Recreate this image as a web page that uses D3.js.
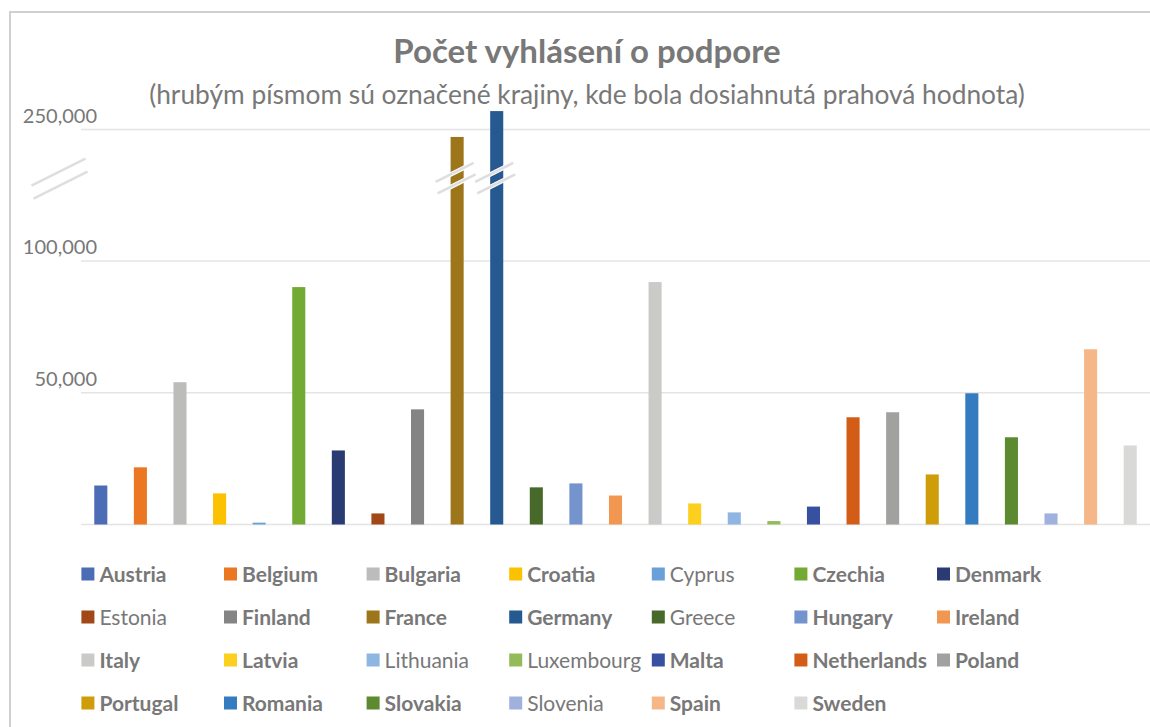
<!DOCTYPE html>
<html>
<head>
<meta charset="utf-8">
<script src="https://cdn.jsdelivr.net/npm/d3@7"></script>
<style>
  body { margin: 0; background: #fff; }
  text { font-family: Lato, "Open Sans", sans-serif; fill: #787878; }
</style>
</head>
<body>
<script>
// data
const countries = ["Austria","Belgium","Bulgaria","Croatia","Cyprus","Czechia","Denmark",
  "Estonia","Finland","France","Germany","Greece","Hungary","Ireland",
  "Italy","Latvia","Lithuania","Luxembourg","Malta","Netherlands","Poland",
  "Portugal","Romania","Slovakia","Slovenia","Spain","Sweden"];

const counts = [14800, 21700, 54000, 11800, 700, 90100, 28100,
  4200, 43700, 241500, 271000, 14100, 15600, 11000,
  92000, 8000, 4600, 1300, 6800, 40700, 42600,
  19000, 49800, 33100, 4200, 66500, 30000];

// countries where the threshold was reached (bold in legend)
const thresholdReached = ["Austria","Belgium","Bulgaria","Croatia","Czechia","Denmark",
  "Finland","France","Germany","Hungary","Ireland","Italy","Latvia","Malta",
  "Netherlands","Poland","Portugal","Romania","Slovakia","Spain","Sweden"];

const colors = ["#4c6db6","#ec7723","#bcbcbb","#fcc100","#6aa0d8","#73aa33","#293b72",
  "#a24816","#848484","#9d761b","#25598f","#476a2b","#7593cc","#f29752",
  "#cacac9","#fdcf1f","#8fb5e2","#93bb5a","#3751a0","#d35c16","#a1a1a0",
  "#cf9d0a","#347bc0","#5b8a30","#a0b1dd","#f5b787","#d9d9d8"];

const gridValues = [0, 50000, 100000, 250000];
const tickValues = [50000, 100000, 250000];
const brokenBars = ["France", "Germany"];
const breakValue = 194500;

const title = "Počet vyhlásení o podpore";
const subtitle = "(hrubým písmom sú označené krajiny, kde bola dosiahnutá prahová hodnota)";

const W = 1150, H = 727;
let svg = d3.select("body").append("svg").attr("width", W).attr("height", H);

// chart frame (only left and top edges visible)
svg.append("path")
  .attr("d", "M10," + H + " V12 H" + W)
  .attr("fill", "none").attr("stroke", "#d0d0d0").attr("stroke-width", 2);

let x = d3.scaleBand().domain(countries).range([81, 1150]).paddingInner(0.67).paddingOuter(0.335);
// broken axis: 0-100k linear, then compressed up to 250k
let y = d3.scaleLinear().domain([0, 100000, 250000]).range([524.5, 261, 129.5]);

// titles
svg.append("text").attr("x", 587).attr("y", 63).attr("text-anchor", "middle")
  .attr("font-size", 33).attr("font-weight", "bold").text(title);
svg.append("text").attr("x", 587).attr("y", 104).attr("text-anchor", "middle")
  .attr("font-size", 26.3).text(subtitle);

// gridlines
svg.append("g").selectAll("line").data(gridValues).join("line")
  .attr("x1", 81).attr("x2", 1150)
  .attr("y1", d => y(d)).attr("y2", d => y(d))
  .attr("stroke", "#e4e4e4").attr("stroke-width", 1.6);

// tick labels sit above their gridline
svg.append("g").selectAll("text").data(tickValues).join("text")
  .attr("x", 97).attr("y", d => y(d) - 7)
  .attr("text-anchor", "end").attr("font-size", 20)
  .text(d => d3.format(",")(d));

// bars
svg.append("g").selectAll("rect").data(countries).join("rect")
  .attr("x", d => x(d))
  .attr("width", x.bandwidth())
  .attr("y", (d, i) => y(counts[i]))
  .attr("height", (d, i) => y(0) - y(counts[i]))
  .attr("fill", (d, i) => colors[i]);

// break marks: two parallel slashes with a white halo
function drawBreak(cx, cy, half, gap) {
  let g = svg.append("g");
  [-gap / 2, gap / 2].forEach(function(off, k) {
    let dx = k == 0 ? -1 : 1;
    let seg = [[cx - half + dx, cy + off + half * 0.5], [cx + half + dx, cy + off - half * 0.5]];
    g.append("line").attr("x1", seg[0][0]).attr("y1", seg[0][1]).attr("x2", seg[1][0]).attr("y2", seg[1][1])
      .attr("stroke", "#fff").attr("stroke-width", 4.5);
    g.append("line").attr("x1", seg[0][0]).attr("y1", seg[0][1]).attr("x2", seg[1][0]).attr("y2", seg[1][1])
      .attr("stroke", "#dedede").attr("stroke-width", 2.5);
  });
}

drawBreak(59.5, y(breakValue) + 0.5, 27, 13);
brokenBars.forEach(function(c) {
  drawBreak(x(c) + x.bandwidth() / 2 - 1.5, y(breakValue), 19, 11.5);
});

// legend, 7 equal columns
let legend = svg.append("g").selectAll("g").data(countries).join("g")
  .attr("transform", (d, i) => "translate(" + (81.4 + (i % 7) * 142.6) + "," + (574 + Math.floor(i / 7) * 43) + ")");

legend.append("rect").attr("x", 0).attr("y", -6.5).attr("width", 13).attr("height", 13)
  .attr("fill", (d, i) => colors[i]);

legend.append("text").attr("x", 18).attr("y", 7.5)
  .attr("font-size", 21)
  .attr("font-weight", d => thresholdReached.includes(d) ? "bold" : "normal")
  .text(d => d);
</script>
</body>
</html>
